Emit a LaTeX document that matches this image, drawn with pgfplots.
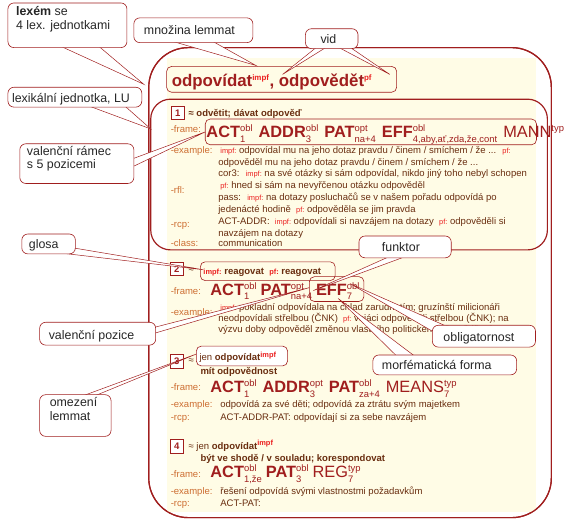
\documentclass[border=0pt]{standalone}
\usepackage{pgfplots}
\pgfplotsset{compat=1.18}
\usepackage{fontspec}
\setmainfont{Liberation Sans}
\definecolor{dred}{RGB}{160,30,30}
\definecolor{brn}{RGB}{105,45,15}
\definecolor{lab}{RGB}{205,110,50}
\definecolor{rr}{RGB}{235,30,30}
\definecolor{cream}{RGB}{255,252,230}
\newcommand{\fr}[4][\bfseries]{{\fontsize{16.5}{16}\selectfont#1#2}\raisebox{-4.5pt}{\fontsize{9.5}{9}\selectfont\begin{tabular}[b]{@{}l@{}}#3\rule{0pt}{7pt}\\[1pt]#4\rule{0pt}{7pt}\end{tabular}}}
\newcommand{\im}{{\color{rr}\fontsize{7.5}{7}\selectfont impf:}}
\newcommand{\pf}{{\color{rr}\fontsize{7.5}{7}\selectfont pf:}}
\begin{document}
\begin{tikzpicture}
\begin{axis}[scale only axis,width=564pt,height=530pt,xmin=0,xmax=564,ymin=0,ymax=530,y dir=reverse,hide axis,clip=false]
\addplot[draw=none] coordinates {(0,0) (564,530)};
\tikzset{
 cb/.style={draw=dred,fill=white,rounded corners=6pt,line width=0.6pt},
 ct/.style={anchor=base west,inner sep=0pt,font=\fontsize{12.5}{14}\selectfont,text=black!85},
 T/.style={anchor=base west,inner sep=0pt,text=brn,font=\fontsize{9.6}{10}\selectfont},
 L/.style={anchor=base west,inner sep=0pt,text=lab,font=\fontsize{9.6}{10}\selectfont},
 B/.style={anchor=base west,inner sep=0pt,text=brn,font=\fontsize{9.6}{10}\selectfont\bfseries},
 ptr/.style={draw=dred,fill=white,line width=0.5pt,line join=miter}}
% big box
\draw[draw=dred,fill=white,line width=1.2pt,rounded corners=40pt] (axis cs:150,48) rectangle (axis cs:556,522);
\begin{scope}
\clip[rounded corners=40pt] (axis cs:150,48) rectangle (axis cs:556,522);
\fill[cream] (axis cs:168,58) rectangle (axis cs:540,516);
\end{scope}
\draw[draw=dred,line width=1.2pt,rounded corners=40pt] (axis cs:150,48) rectangle (axis cs:556,522);
% title
\draw[draw=dred,fill=cream,rounded corners=5pt,line width=0.6pt] (axis cs:168,67) rectangle (axis cs:400,93);
\node[anchor=base west,inner sep=0pt,text=dred,font=\fontsize{17}{18}\selectfont\bfseries] at (axis cs:173,87) {odpovídat\textsuperscript{\color{rr}\fontsize{8}{8}\selectfont impf}, odpovědět\textsuperscript{\color{rr}\fontsize{8}{8}\selectfont pf}};
% LU1 box
\draw[draw=dred,line width=1.2pt,rounded corners=20pt] (axis cs:152,100) rectangle (axis cs:552,252);
\draw[dred,line width=0.8pt,fill=white] (axis cs:173,107) rectangle (axis cs:186,120);
\node[B,text=dred] at (axis cs:176.5,117) {1};
\node[B] at (axis cs:190,117) {≈ odvětit; dávat odpověď};
\node[L] at (axis cs:172,134) {-frame:};
\draw[draw=dred,rounded corners=5pt,line width=0.6pt] (axis cs:207,120) rectangle (axis cs:541,146);
\node[anchor=base west,inner sep=0pt,text=dred] at (axis cs:208,139) {\fr{ACT}{obl}{1}\hspace{6pt}\fr{ADDR}{obl}{3}\hspace{6pt}\fr{PAT}{opt}{na+4}\hspace{6pt}\fr{EFF}{obl}{4,aby,ať,zda,že,cont}\hspace{6pt}\fr[\mdseries]{MANN}{typ}{}};
\node[L] at (axis cs:172,155) {-example:};
\node[T] at (axis cs:222,155) {\im\ odpovídal mu na jeho dotaz pravdu / činem / smíchem / že ... \ \pf};
\node[T] at (axis cs:220,167) {odpověděl mu na jeho dotaz pravdu / činem / smíchem / že ...};
\node[T] at (axis cs:220,178) {cor3: \ \im\ na své otázky si sám odpovídal, nikdo jiný toho nebyl schopen};
\node[T] at (axis cs:222,190) {\pf\ hned si sám na nevyřčenou otázku odpověděl};
\node[L] at (axis cs:172,195) {-rfl:};
\node[T] at (axis cs:220,202) {pass: \ \im\ na dotazy posluchačů se v našem pořadu odpovídá po};
\node[T] at (axis cs:220,214) {jedenácté hodině \ \pf\ odpověděla se jim pravda};
\node[T] at (axis cs:220,226) {ACT-ADDR: \ \im\ odpovídali si navzájem na dotazy \ \pf\ odpověděli si};
\node[L] at (axis cs:172,229) {-rcp:};
\node[T] at (axis cs:220,238) {navzájem na dotazy};
\node[L] at (axis cs:172,249) {-class:};
\node[T] at (axis cs:220,249) {communication};
% LU2
\draw[dred,line width=0.8pt,fill=white] (axis cs:172,265) rectangle (axis cs:185,278);
\node[B,text=dred] at (axis cs:175.5,275) {2};
\node[T] at (axis cs:190,275) {≈};
\node[L] at (axis cs:172,297) {-frame:};
\node[anchor=base west,inner sep=0pt,text=dred] at (axis cs:212,298) {\fr{ACT}{obl}{1}\hspace{4pt}\fr{PAT}{opt}{na+4}\hspace{4pt}\fr{EFF}{obl}{7}};
\node[L] at (axis cs:172,318) {-example:};
\node[T] at (axis cs:222,313) {\im\ pokladní odpovídala na chlad zarudnutím; gruzínští milicionáři};
\node[T] at (axis cs:220,324) {neodpovídali střelbou (ČNK) \ \pf\ vojáci odpověděli střelbou (ČNK); na};
\node[T] at (axis cs:220,335) {výzvu doby odpověděl změnou vlastního politického přesvědčení};
% LU3
\draw[dred,line width=0.8pt,fill=white] (axis cs:172,357) rectangle (axis cs:185,371);
\node[B,text=dred] at (axis cs:175.5,367.5) {3};
\node[T] at (axis cs:190,367) {≈};
\node[B] at (axis cs:202,378) {mít odpovědnost};
\node[L] at (axis cs:172,394) {-frame:};
\node[anchor=base west,inner sep=0pt,text=dred] at (axis cs:212,396) {\fr{ACT}{obl}{1}\hspace{6pt}\fr{ADDR}{opt}{3}\hspace{6pt}\fr{PAT}{obl}{za+4}\hspace{6pt}\fr[\mdseries]{MEANS}{typ}{7}};
\node[L] at (axis cs:172,411) {-example:};
\node[T] at (axis cs:222,411) {odpovídá za své děti; odpovídá za ztrátu svým majetkem};
\node[L] at (axis cs:172,424) {-rcp:};
\node[T] at (axis cs:222,424) {ACT-ADDR-PAT: odpovídají si za sebe navzájem};
% LU4
\draw[dred,line width=0.8pt,fill=white] (axis cs:172,443) rectangle (axis cs:185,457);
\node[B,text=dred] at (axis cs:175.5,453.5) {4};
\node[T] at (axis cs:190,453) {≈ jen \textbf{odpovídat}\textsuperscript{\color{rr}\fontsize{7.5}{7}\selectfont\bfseries impf}};
\node[B] at (axis cs:202,465) {být ve shodě / v souladu; korespondovat};
\node[L] at (axis cs:172,482) {-frame:};
\node[anchor=base west,inner sep=0pt,text=dred] at (axis cs:212,482) {\fr{ACT}{obl}{1,že}\hspace{4pt}\fr{PAT}{obl}{3}\hspace{4pt}\fr[\mdseries]{REG}{typ}{7}};
\node[L] at (axis cs:172,499) {-example:};
\node[T] at (axis cs:222,499) {řešení odpovídá svými vlastnostmi požadavkům};
\node[L] at (axis cs:172,511) {-rcp:};
\node[T] at (axis cs:222,511) {ACT-PAT:};
% in-text boxes
\draw[draw=dred,rounded corners=5pt,line width=0.6pt] (axis cs:202,264) rectangle (axis cs:338,283);
\node[B] at (axis cs:205,277) {\im\ reagovat \ \pf\ reagovat};
\draw[draw=dred,rounded corners=5pt,line width=0.6pt] (axis cs:312,279) rectangle (axis cs:367,304);
\draw[draw=dred,fill=white,rounded corners=5pt,line width=0.6pt] (axis cs:198,349) rectangle (axis cs:290,369);
\node[T] at (axis cs:201,364) {jen \textbf{odpovídat}\textsuperscript{\color{rr}\fontsize{7.5}{7}\selectfont\bfseries impf}};
% pointers
\draw[ptr] (axis cs:62,47) -- (axis cs:145,85) -- (axis cs:100,47);
\draw[ptr] (axis cs:175,42) -- (axis cs:258,66) -- (axis cs:215,42);
\draw[ptr] (axis cs:320,47) -- (axis cs:285,75) -- (axis cs:330,47);
\draw[ptr] (axis cs:340,47) -- (axis cs:393,75) -- (axis cs:352,47);
\draw[ptr] (axis cs:90,107) -- (axis cs:152,130) -- (axis cs:126,107);
\draw[ptr] (axis cs:134,160) -- (axis cs:207,133) -- (axis cs:134,168);
\draw[ptr] (axis cs:60,255) -- (axis cs:205,272) -- (axis cs:74,250);
\draw[ptr] (axis cs:392,259) -- (axis cs:316,293) -- (axis cs:408,259);
\draw[ptr] (axis cs:156,330) -- (axis cs:312,290) -- (axis cs:156,336);
\draw[ptr] (axis cs:436,334) -- (axis cs:353,286) -- (axis cs:448,328);
\draw[ptr] (axis cs:400,359) -- (axis cs:341,301) -- (axis cs:418,359);
\draw[ptr] (axis cs:84,399) -- (axis cs:198,357) -- (axis cs:96,399);
% callout boxes
\draw[cb] (axis cs:8,3) rectangle (axis cs:128,48);
\node[ct,align=left,anchor=north west] at (axis cs:16,6) {\textbf{lexém} se\\4 lex. jednotkami};
\draw[cb] (axis cs:135,18) rectangle (axis cs:255,43);
\node[ct] at (axis cs:145,35) {množina lemmat};
\draw[cb] (axis cs:308,29) rectangle (axis cs:361,49);
\node[ct] at (axis cs:323,44) {vid};
\draw[cb] (axis cs:8,88) rectangle (axis cs:143,108);
\node[ct] at (axis cs:12,103) {lexikální jednotka, LU};
\draw[cb] (axis cs:20,145) rectangle (axis cs:135,185);
\node[ct,align=left,anchor=north west] at (axis cs:27,147) {valenční rámec\\s 5 pozicemi};
\draw[cb] (axis cs:22,236) rectangle (axis cs:76,256);
\node[ct] at (axis cs:29,251) {glosa};
\draw[cb] (axis cs:362,238) rectangle (axis cs:455,260);
\node[ct] at (axis cs:385,254) {funktor};
\draw[cb] (axis cs:40,325) rectangle (axis cs:157,348);
\node[ct] at (axis cs:49,342) {valenční pozice};
\draw[cb] (axis cs:436,328) rectangle (axis cs:540,350);
\node[ct] at (axis cs:447,344) {obligatornost};
\draw[cb] (axis cs:376,358) rectangle (axis cs:521,378);
\node[ct] at (axis cs:385,373) {morfématická forma};
\draw[cb] (axis cs:40,398) rectangle (axis cs:112,440);
\node[ct,align=left,anchor=north west] at (axis cs:50,401) {omezení\\lemmat};
\end{axis}
\end{tikzpicture}
\end{document}
